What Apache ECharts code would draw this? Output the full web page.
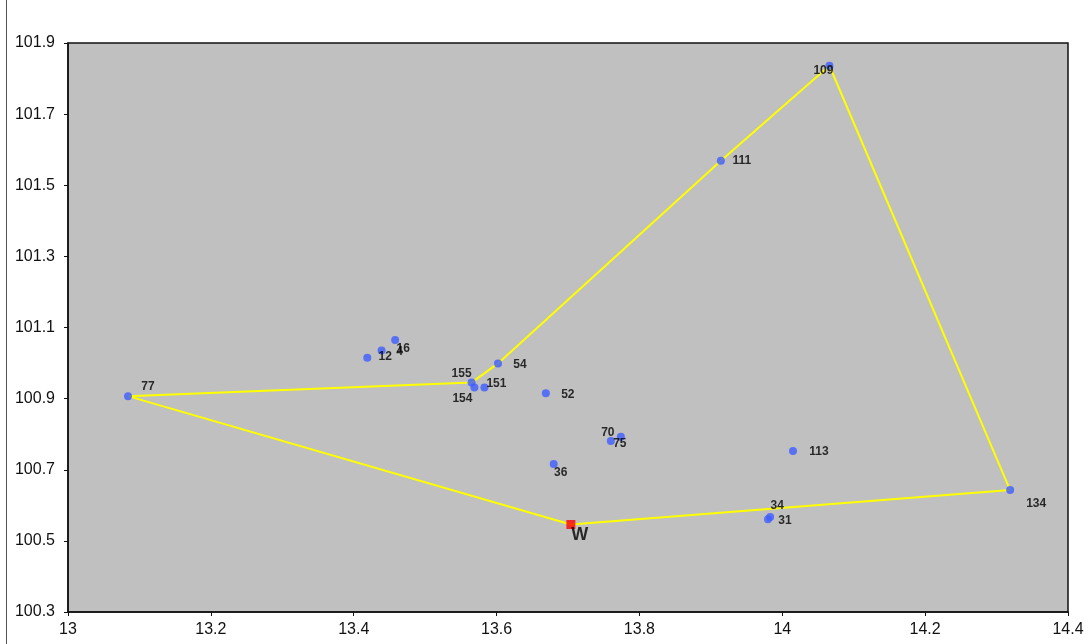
<!DOCTYPE html>
<html>
<head>
<meta charset="utf-8">
<script src="https://cdn.jsdelivr.net/npm/echarts@6/dist/echarts.min.js"></script>
<style>html,body{margin:0;padding:0;background:#fff;}#c{width:1090px;height:644px;}</style>
</head>
<body>
<div id="c"></div>
<script>
// ---- data ----
const pointNames = ['77','12','4','16','155','154','151','54','52','36','70','75','111','109','113','134','34','31'];
const pointX = [13.084,13.419,13.439,13.458,13.565,13.569,13.583,13.602,13.669,13.680,13.760,13.774,13.914,14.066,14.015,14.319,13.983,13.980];
const pointY = [100.907,101.015,101.035,101.065,100.945,100.931,100.931,100.999,100.915,100.716,100.781,100.793,101.569,101.836,100.753,100.643,100.567,100.561];
const wName = 'W';
const wX = 13.704;
const wY = 100.546;
const hullOrder = ['77','155','54','111','109','134','W','77'];
const xTicks = [13, 13.2, 13.4, 13.6, 13.8, 14, 14.2, 14.4];
const yTicks = [100.3, 100.5, 100.7, 100.9, 101.1, 101.3, 101.5, 101.7, 101.9];

// ---- styling (label offsets in px, not data) ----
const Y0 = yTicks[0];
const labelOffsets = {
  '77':[20,-9],'12':[18,-1],'4':[18,1],'16':[8,9],'155':[-10,-9],'154':[-12,11],
  '151':[12,-4],'54':[22,1],'52':[22,1],'36':[7,9],'70':[-3,-8],'75':[-1,7],
  '111':[21,0],'109':[-6,5],'113':[26,1],'134':[26,14],'34':[7,-11],'31':[17,2]
};
const FONT = "'Liberation Sans', Arial, sans-serif";

const lookup = {};
pointNames.forEach((n,i)=>{ lookup[n] = [pointX[i], pointY[i]]; });
lookup[wName] = [wX, wY];

const hullData = hullOrder.map(n => [lookup[n][0], lookup[n][1] - Y0]);
const ptData = pointNames.map((n,i)=>({
  name: n,
  value: [pointX[i], pointY[i] - Y0],
  label: { offset: labelOffsets[n] || [15,0] }
}));

const chart = echarts.init(document.getElementById('c'), null, {renderer:'canvas'});
chart.setOption({
  backgroundColor: '#ffffff',
  animation: false,
  graphic: [
    { type:'line', shape:{x1:6.5,y1:0,x2:6.5,y2:644}, style:{stroke:'#555', lineWidth:1}, z:0 }
  ],
  grid: {
    left: 68, top: 43, right: 22, bottom: 32,
    show: true, backgroundColor: '#c0c0c0', borderColor: '#111', borderWidth: 1.5
  },
  xAxis: {
    type: 'value', min: 13, max: 14.4, interval: 0.2,
    axisLine: { show: true, lineStyle: { color: '#111', width: 1.5 } },
    axisTick: { show: true, length: 4, lineStyle: { color: '#111' } },
    splitLine: { show: false },
    axisLabel: { color: '#111', fontSize: 16, fontFamily: FONT, margin: 10,
      formatter: v => String(+v.toFixed(1)) }
  },
  yAxis: {
    type: 'value', min: 0, max: yTicks[yTicks.length-1] - Y0, interval: 0.2,
    axisLine: { show: true, lineStyle: { color: '#111', width: 1.5 } },
    axisTick: { show: true, length: 4, lineStyle: { color: '#111' } },
    splitLine: { show: false },
    axisLabel: { color: '#111', fontSize: 16, fontFamily: FONT, margin: 13,
      formatter: v => (v + Y0).toFixed(1) }
  },
  series: [
    {
      type: 'line', data: hullData, symbol: 'none', silent: true,
      lineStyle: { color: '#ffff00', width: 2 }, z: 2
    },
    {
      type: 'scatter', data: ptData, symbol: 'circle', symbolSize: 8,
      itemStyle: { color: '#3d5cff' }, z: 3,
      label: { show: true, position: 'inside', formatter: p => p.name,
        color: '#000', fontWeight: 'bold', fontSize: 12, fontFamily: FONT }
    },
    {
      type: 'scatter', data: [{ name: wName, value: [wX, wY - Y0] }],
      symbol: 'rect', symbolSize: 9, itemStyle: { color: '#ff0000' }, z: 4,
      label: { show: true, position: 'inside', offset: [9, 11], formatter: p => p.name,
        color: '#000', fontWeight: 'bold', fontSize: 18, fontFamily: FONT }
    }
  ]
});
</script>
</body>
</html>
